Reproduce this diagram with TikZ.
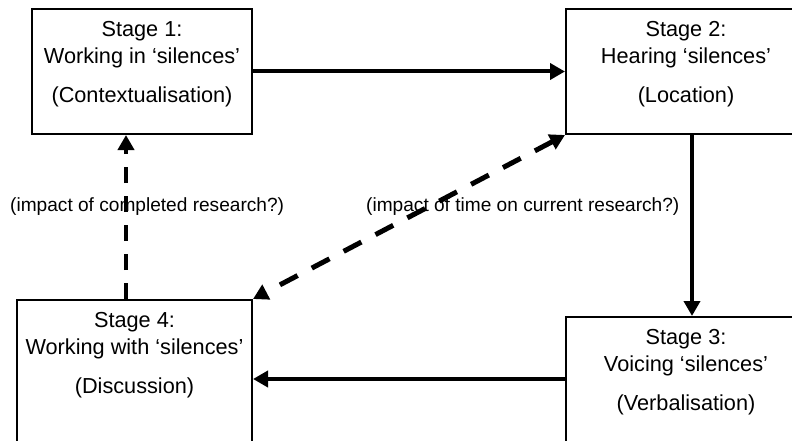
\documentclass[tikz,border=0pt]{standalone}
\usepackage{fontspec}
\setmainfont{Liberation Sans}
\usetikzlibrary{arrows.meta,positioning}
\begin{document}
\begin{tikzpicture}[x=1pt,y=1pt]
		\tikzstyle{stagebox}=[draw,line width=2pt,inner sep=0pt,minimum width=220pt,minimum height=125pt];
		\tikzstyle{stagetext}=[inner sep=0pt,align=center,font=\fontsize{21.7}{27}\selectfont];
		\tikzstyle{note}=[inner sep=0pt,anchor=base west,font=\fontsize{19.1}{23}\selectfont];
		\tikzstyle{arr}=[line width=4pt,-{Triangle[length=15pt,width=16pt]}];
		\tikzstyle{dasharr}=[line width=4.5pt,dash pattern=on 16pt off 13pt,-{Triangle[length=15pt,width=16pt]}];
		\clip (0,0) rectangle (792,440);
		\fill[white] (0,0) rectangle (792,440);
		\node[stagebox] (s1) at (142,368.5) {};
		\node[stagebox,minimum width=240pt] (s2) at (686,368.5) {};
		\node[stagebox,minimum width=240pt,minimum height=130pt] (s3) at (686,58) {};
		\node[stagebox,minimum width=235pt,minimum height=147pt] (s4) at (134.5,66.5) {};
		\node[stagetext,below=13pt of s1.north] (t1) {Stage 1:\\Working in ‘silences’\\[12pt](Contextualisation)};
		\node[stagetext,below=13pt of s2.north] (t2) {Stage 2:\\Hearing ‘silences’\\[12pt](Location)};
		\node[stagetext,below=13pt of s3.north] (t3) {Stage 3:\\Voicing ‘silences’\\[12pt](Verbalisation)};
		\node[stagetext,below=13pt of s4.north] (t4) {Stage 4:\\Working with ‘silences’\\[12pt](Discussion)};
		\node[note] (n1) at (10,229) {(impact of completed research?)};
		\node[note] (n2) at (366,229) {(impact of time on current research?)};
		\draw[arr] (s1) -- (s2);
		\draw[arr] ([xshift=6pt]s2.south) -- ([xshift=6pt]s3.north);
		\draw[arr] ([yshift=3pt]s3.west) -- ([yshift=3pt]s3.west -| s4.east);
		\draw[dasharr] ([xshift=-8.5pt]s4.north) -- ([xshift=-8.5pt]s4.north |- s1.south);
		\draw[dasharr,line width=5pt,dash pattern=on 20pt off 16pt,{Triangle[length=15pt,width=16pt]}-{Triangle[length=15pt,width=16pt]}] (s2.south west) -- (s4.north east);
\end{tikzpicture}
\end{document}
